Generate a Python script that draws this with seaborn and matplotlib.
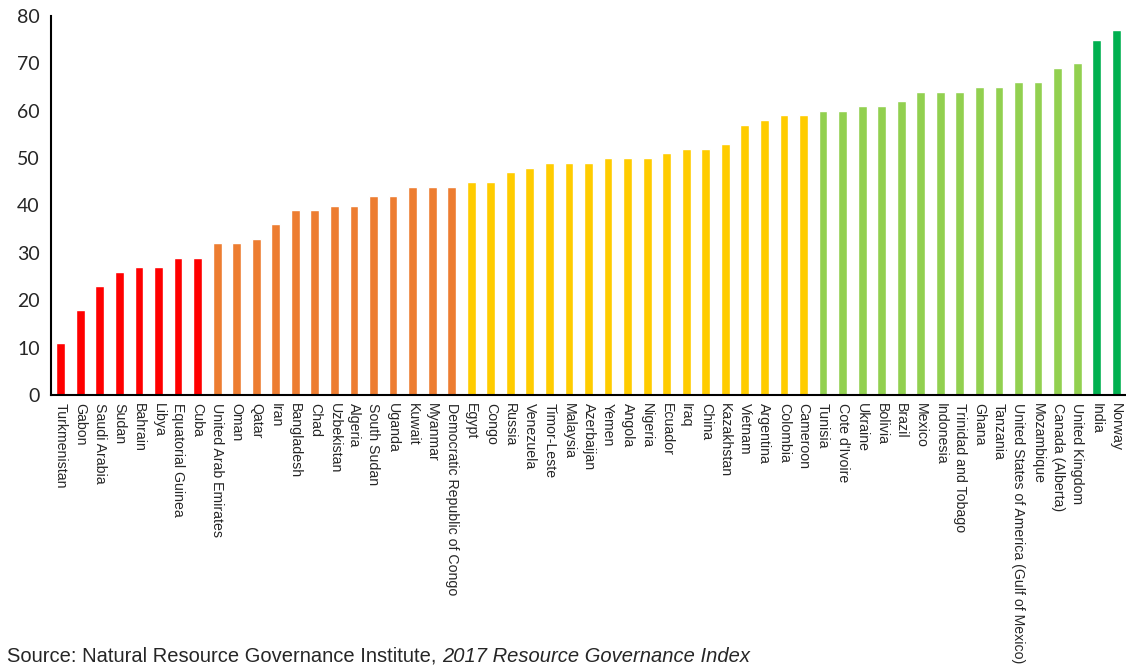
import matplotlib
matplotlib.use("Agg")
import matplotlib.pyplot as plt
import seaborn as sns
import pandas as pd

countries = ["Turkmenistan", "Gabon", "Saudi Arabia", "Sudan", "Bahrain", "Libya",
             "Equatorial Guinea", "Cuba", "United Arab Emirates", "Oman", "Qatar", "Iran",
             "Bangladesh", "Chad", "Uzbekistan", "Algeria", "South Sudan", "Uganda",
             "Kuwait", "Myanmar", "Democratic Republic of Congo", "Egypt", "Congo",
             "Russia", "Venezuela", "Timor-Leste", "Malaysia", "Azerbaijan", "Yemen",
             "Angola", "Nigeria", "Ecuador", "Iraq", "China", "Kazakhstan", "Vietnam",
             "Argentina", "Colombia", "Cameroon", "Tunisia", "Cote d'Ivoire", "Ukraine",
             "Bolivia", "Brazil", "Mexico", "Indonesia", "Trinidad and Tobago", "Ghana",
             "Tanzania", "United States of America (Gulf of Mexico)", "Mozambique",
             "Canada (Alberta)", "United Kingdom", "India", "Norway"]
scores = [11, 18, 23, 26, 27, 27, 29, 29, 32, 32, 33, 36, 39, 39, 40, 40, 42, 42,
          44, 44, 44, 45, 45, 47, 48, 49, 49, 49, 50, 50, 50, 51, 52, 52, 53, 57,
          58, 59, 59, 60, 60, 61, 61, 62, 64, 64, 64, 65, 65, 66, 66, 69, 70, 75, 77]
bands = ["Failing", "Poor", "Weak", "Satisfactory", "Good"]
band_colors = ["#FF0000", "#ED7D31", "#FFCC00", "#92D050", "#00B050"]
y_ticks = [0, 10, 20, 30, 40, 50, 60, 70, 80]


def band_of(v):
    if v < 30:
        return bands[0]
    if v < 45:
        return bands[1]
    if v < 60:
        return bands[2]
    if v < 75:
        return bands[3]
    return bands[4]


df = pd.DataFrame({"country": countries, "score": scores,
                   "band": [band_of(v) for v in scores]})

sns.set_style("white")
fig = plt.figure(figsize=(11.26, 6.65), dpi=100)
ax = fig.add_axes([51 / 1126, (665 - 395) / 665, (1126 - 51) / 1126, (395 - 16) / 665])

sns.barplot(data=df, x="country", y="score", hue="band", hue_order=bands,
            palette=dict(zip(bands, band_colors)), dodge=False, legend=False,
            width=0.45, saturation=1, ax=ax)

ax.set_ylim(0, 80)
ax.set_xlim(-0.42, len(countries) - 1 + 0.3)
ax.set_yticks(y_ticks)
ax.set_yticklabels([str(t) for t in y_ticks], fontsize=14, family="Lato")
ax.set_xlabel("")
ax.set_ylabel("")

ax.set_xticks(range(len(countries)))
ax.set_xticklabels(countries, rotation=270, fontsize=10.2, family="Liberation Sans",
                   va="top", ha="center")
ax.tick_params(axis="x", length=0, pad=6)
ax.set_xticks([i + 0.5 for i in range(-1, len(countries))], minor=True)
ax.tick_params(axis="x", which="minor", direction="in", length=5, width=1.2, color="black")
ax.tick_params(axis="y", direction="in", length=5, width=1.2, color="black", pad=8)

for s in ["top", "right"]:
    ax.spines[s].set_visible(False)
for s in ["left", "bottom"]:
    ax.spines[s].set_color("black")
    ax.spines[s].set_linewidth(1.5)

fig.text(7 / 1126, 3 / 665, "Source: Natural Resource Governance Institute, ",
         fontsize=14.5, family="Liberation Sans", va="baseline", ha="left")
t1 = fig.texts[-1]
fig.canvas.draw()
bb = t1.get_window_extent()
fig.text(bb.x1 / 1126, 3 / 665, "2017 Resource Governance Index", fontsize=14.5,
         family="Liberation Sans", style="italic", va="baseline", ha="left")

fig.savefig("out.png", dpi=100)
